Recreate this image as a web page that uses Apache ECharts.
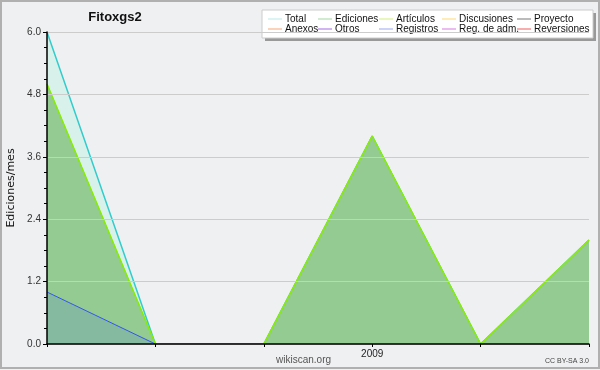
<!DOCTYPE html>
<html><head><meta charset="utf-8">
<script src="https://cdn.jsdelivr.net/npm/echarts@6/dist/echarts.min.js"></script>
<style>html,body{margin:0;padding:0;background:#eff0f2}#c{width:600px;height:370px}</style>
</head><body><div id="c"></div>
<script>
const categories = ['2008-10','2008-11','2008-12','2009-01','2009-02','2009-03'];
const tickLabels = {'2009-01':'2009'};
const total = [6, 0, 0, 4, 0, 2];
const ediciones = [5, 0, 0, 4, 0, 2];
const articulos = [5, 0, 0, 4, 0, 2];
const registros = [1, 0, null, null, null, null];
const legendCols = [
  [['Total','#a8e4e0'],['Anexos','#f59055']],
  [['Ediciones','#88cc88'],['Otros','#8844dd']],
  [['Artículos','#c4ee5a'],['Registros','#8090ee']],
  [['Discusiones','#ffd050'],['Reg. de adm.','#cc55dd']],
  [['Proyecto','#555555'],['Reversiones','#ee3333']]
];
const legendX = [268, 318, 379, 442, 517];

const chart = echarts.init(document.getElementById('c'), null, {renderer:'canvas'});
const font = 'Liberation Sans, Arial, sans-serif';
const legendColor = {};
legendCols.forEach(col => col.forEach(([n,c]) => legendColor[n] = c));
const emptyNames = ['Discusiones','Proyecto','Anexos','Otros','Reg. de adm.','Reversiones'];

const series = [
  {name:'Total', type:'line', data: total, symbol:'none', z:2,
   lineStyle:{color:'#33cccc', width:1.5}, itemStyle:{color:legendColor['Total']},
   areaStyle:{color:'#d8f1ea', opacity:1}},
  {name:'Ediciones', type:'line', data: ediciones, symbol:'none', z:3,
   lineStyle:{color:'#88cc88', width:1}, itemStyle:{color:legendColor['Ediciones']},
   areaStyle:{color:'#93cb93', opacity:1}},
  {name:'Artículos', type:'line', data: articulos, symbol:'none', z:4,
   lineStyle:{color:'#88ee00', width:1.5}, itemStyle:{color:legendColor['Artículos']}},
  {name:'Registros', type:'line', data: registros, symbol:'none', z:5,
   lineStyle:{color:'#3355ee', width:1}, itemStyle:{color:legendColor['Registros']},
   areaStyle:{color:'#3355ee', opacity:0.15}}
];
emptyNames.forEach(n => series.push({name:n, type:'line', data:[], symbol:'none',
  color: legendColor[n], itemStyle:{color:legendColor[n]}, lineStyle:{color:legendColor[n]}}));

const legends = legendCols.map((col, i) => ({
  orient:'vertical', left: legendX[i], top: 14, itemGap: 0,
  itemWidth: 14, itemHeight: 10, icon: 'path://M0,4.6L14,4.6L14,5.4L0,5.4Z',
  selectedMode:false, padding:0, itemStyle:{borderWidth:0},
  textStyle:{fontFamily:font, fontSize:10, color:'#111', padding:[0,0,0,-2]},
  data: col.map(([n,c]) => ({name:n, itemStyle:{color:c, borderWidth:0}}))
}));

chart.setOption({
  backgroundColor:'#eff0f2',
  animation:false,
  title:{text:'Fitoxgs2', left:110, textAlign:'center', top:6,
    textStyle:{fontFamily:font, fontSize:13, fontWeight:'bold', color:'#111'}},
  legend: legends,
  grid:{left:47, right:11, top:32, bottom:26, containLabel:false, outerBoundsMode:'none'},
  xAxis:{type:'category', data:categories, boundaryGap:false, z:20,
    axisLine:{lineStyle:{color:'#000', width:1.5}},
    axisTick:{show:true, length:3, lineStyle:{color:'#000'}},
    axisLabel:{fontFamily:font, fontSize:10, color:'#222', margin:5,
      formatter: v => tickLabels[v] || '', interval:0},
    splitLine:{show:false}},
  yAxis:{type:'value', min:0, max:6, interval:1.2, z:20,
    name:'Ediciones/mes', nameLocation:'middle', nameGap:30, nameRotate:90,
    nameTextStyle:{fontFamily:'DejaVu Sans', fontSize:11, color:'#111'},
    axisLine:{show:true, lineStyle:{color:'#000', width:1.5}},
    axisTick:{show:true, length:4, lineStyle:{color:'#000'}},
    minorTick:{show:true, splitNumber:4, length:3, lineStyle:{color:'#000'}},
    axisLabel:{fontFamily:font, fontSize:10, color:'#333', margin:6,
      formatter: v => v.toFixed(1)},
    splitLine:{show:true, lineStyle:{color:'#cccccc', width:1}}},
  series: series,
  graphic:[
    {type:'rect', z:-1, shape:{x:265, y:13, width:331, height:28},
     style:{fill:'#999999'}},
    {type:'rect', z:0, shape:{x:262, y:10, width:331, height:28},
     style:{fill:'#ffffff', stroke:'#cccccc', lineWidth:1}},
    {type:'text', left:276, top:355, z:10,
     style:{text:'wikiscan.org', fontFamily:font, fontSize:10, fill:'#555'}},
    {type:'text', right:11, top:358, z:10,
     style:{text:'CC BY-SA 3.0', fontFamily:font, fontSize:7, fill:'#444'}},
    {type:'rect', z:20, shape:{x:1, y:1, width:598, height:367},
     style:{fill:'none', stroke:'#b0b0b0', lineWidth:2}}
  ]
});
</script></body></html>
